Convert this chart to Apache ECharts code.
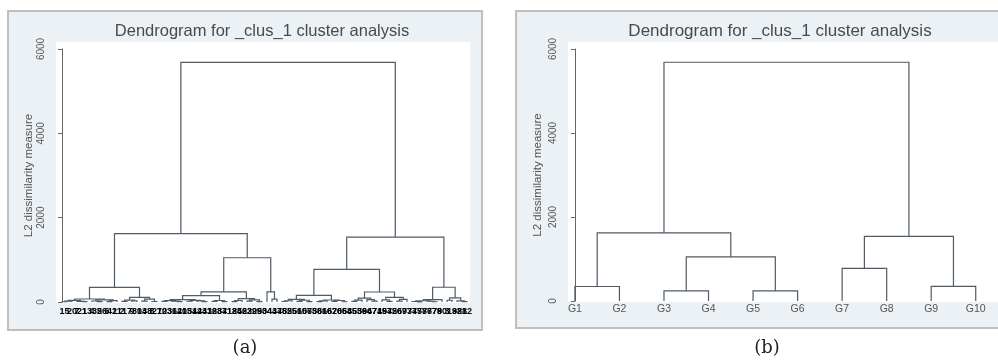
<!DOCTYPE html>
<html>
<head>
<meta charset="utf-8">
<title>Dendrogram for _clus_1 cluster analysis</title>
<script src="https://cdn.jsdelivr.net/npm/echarts@6.0.0/dist/echarts.min.js"></script>
<style>
  html, body { margin: 0; padding: 0; background: #fff; }
  #chart { width: 998px; height: 362px; }
</style>
</head>
<body>
<div id="chart"></div>
<script>
// upper part of the tree (cut at 10 groups), shared by both panels: [height, left, right]
const upperTree = [5685,
  [1620, [345, 'G1', 'G2'], [1050, [240, 'G3', 'G4'], [240, 'G5', 'G6']]],
  [1540, [775, 'G7', 'G8'], [350, 'G9', 'G10']]
];

// sub-trees of the groups in panel (a), leaves = observation numbers
const g1 = [71, [38, [20, [6, '1', '5'], '20'], [14, '7', [9, '21', '13']]],
                [52, [24, '4', [11, '35', '26']], [31, [8, '6', '42'], '11']]];
const g2 = [109, [45, [16, '2', '17'], [28, '9', '30']], [70, [22, '14', '38'], [12, '8', '27']]];
const g3 = [150,
  [58, [33, [14, '10', '23'], [21, '36', [7, '12', '40']]], [40, [18, '15', '31'], [26, '44', [9, '24', '33']]]],
  [35, [15, '16', '28'], [11, '37', '41']]];
const g4 = [80, [36, [10, '18', '25'], '46'], [50, [19, '22', '39'], [8, '29', '50']]];
const g5 = '34';
const g6 = [66, '43', '47'];
const g7 = [156,
  [62, [30, [12, '48', '52'], '55'], [41, [17, '51', '60'], [9, '57', '63']]],
  [48, [27, [10, '58', '61'], '66'], [35, [14, '62', '70'], [6, '65', '68']]]];
const g8 = [237,
  [92, [44, [15, '45', '53'], '59'], [58, '64', [20, '67', '71']]],
  [110, [51, '49', [17, '54', '72']], [64, [23, '56', '69'], '73']]];
const g9 = [55, [30, [12, '74', [4, '75', '78']], [18, '76', [6, '77', '79']]], '80'];
const g10 = [100, [42, '3', '19'], [26, '32', [9, '81', '82']]];
const groupsA = { G1: g1, G2: g2, G3: g3, G4: g4, G5: g5, G6: g6, G7: g7, G8: g8, G9: g9, G10: g10 };

const yMax = 6000;
const yStep = 2000;
const titleText = 'Dendrogram for _clus_1 cluster analysis';
const yName = 'L2 dissimilarity measure';

const lineColor = '#4f5b67';
const bgColor = '#ebf1f4';

// walk the tree: leaves get positions 0,1,2..., a node sits midway between its children
function build(node, resolve, out) {
  const n = resolve(node);
  if (!Array.isArray(n)) {
    out.leaves.push(n);
    return [out.leaves.length - 1, 0];
  }
  const a = build(n[1], resolve, out);
  const b = build(n[2], resolve, out);
  out.links.push([a[0], a[1], b[0], b[1], n[0]]);
  return [(a[0] + b[0]) / 2, n[0]];
}

const treeA = { leaves: [], links: [] };
build(upperTree, name => groupsA[name] || name, treeA);
const treeB = { leaves: [], links: [] };
build(upperTree, name => name, treeB);

function linkSeries(idx, links) {
  return {
    type: 'custom',
    xAxisIndex: idx, yAxisIndex: idx,
    data: links,
    silent: true,
    clip: false,
    encode: { x: [0, 2], y: [1, 4] },
    renderItem: function (params, api) {
      const xl = api.value(0), yl = api.value(1), xr = api.value(2), yr = api.value(3), h = api.value(4);
      return {
        type: 'polyline',
        shape: { points: [api.coord([xl, yl]), api.coord([xl, h]), api.coord([xr, h]), api.coord([xr, yr])] },
        style: { stroke: lineColor, lineWidth: 1.2, fill: null }
      };
    }
  };
}

function labelSeries(idx, leaves, font, color, dy) {
  return {
    type: 'custom',
    xAxisIndex: idx, yAxisIndex: idx,
    data: leaves.map((l, i) => [i, 0]),
    silent: true,
    clip: false,
    renderItem: function (params, api) {
      const p = api.coord([api.value(0), 0]);
      return {
        type: 'text',
        style: {
          text: leaves[params.dataIndex], x: p[0], y: p[1] + dy,
          align: 'center', verticalAlign: 'middle', fill: color, font: font
        }
      };
    }
  };
}

function yAxisCfg(idx, gap) {
  return {
    type: 'value', gridIndex: idx, min: 0, max: yMax, interval: yStep,
    name: yName, nameLocation: 'middle', nameGap: gap, nameRotate: 90,
    nameTextStyle: { color: '#555', fontSize: 11.5, fontFamily: 'Liberation Sans' },
    axisLine: { show: true, lineStyle: { color: '#666', width: 1 } },
    axisTick: { show: true, length: 4, lineStyle: { color: '#666' } },
    axisLabel: { rotate: 90, margin: 8, color: '#555', fontSize: 10, fontFamily: 'Liberation Sans',
      formatter: v => String(v) },
    splitLine: { show: false }
  };
}

function xAxisCfg(idx, min, max) {
  return {
    type: 'value', gridIndex: idx, min: min, max: max,
    axisLine: { show: false }, axisTick: { show: false }, axisLabel: { show: false }, splitLine: { show: false }
  };
}

const chart = echarts.init(document.getElementById('chart'), null, { renderer: 'canvas' });

chart.setOption({
  backgroundColor: '#ffffff',
  animation: false,
  // panel frames and white plot regions (Stata look)
  graphic: [
    { type: 'rect', z: -10, shape: { x: 8, y: 11, width: 474, height: 319 },
      style: { fill: bgColor, stroke: '#bfbfbf', lineWidth: 2 } },
    { type: 'rect', z: -9, shape: { x: 56, y: 42, width: 414, height: 261 }, style: { fill: '#ffffff' } },
    { type: 'rect', z: -10, shape: { x: 516, y: 11, width: 500, height: 317 },
      style: { fill: bgColor, stroke: '#bfbfbf', lineWidth: 2 } },
    { type: 'rect', z: -9, shape: { x: 568, y: 42, width: 440, height: 260 }, style: { fill: '#ffffff' } }
  ],
  title: [
    { text: titleText, left: 262, top: 23, textAlign: 'center', padding: 0,
      textStyle: { color: '#4a4a4a', fontSize: 16.5, fontWeight: 'normal', fontFamily: 'Liberation Sans' } },
    { text: titleText, left: 780, top: 23, textAlign: 'center', padding: 0,
      textStyle: { color: '#4a4a4a', fontSize: 17, fontWeight: 'normal', fontFamily: 'Liberation Sans' } },
    { text: '(a)', left: 245, top: 339, textAlign: 'center', padding: 0,
      textStyle: { color: '#222', fontSize: 18, fontWeight: 'normal', fontFamily: 'DejaVu Serif' } },
    { text: '(b)', left: 767, top: 339, textAlign: 'center', padding: 0,
      textStyle: { color: '#222', fontSize: 18, fontWeight: 'normal', fontFamily: 'DejaVu Serif' } }
  ],
  grid: [
    { left: 54, top: 49, width: 416, height: 253 },
    { left: 566, top: 49, width: 444, height: 252 }
  ],
  xAxis: [xAxisCfg(0, -1.6, 81.6), xAxisCfg(1, -0.2, 9.5)],
  yAxis: [yAxisCfg(0, 18), yAxisCfg(1, 22)],
  series: [
    linkSeries(0, treeA.links),
    labelSeries(0, treeA.leaves, 'bold 9px "Liberation Sans"', '#000', 10),
    linkSeries(1, treeB.links),
    labelSeries(1, treeB.leaves, '10.5px "Liberation Sans"', '#555', 8)
  ]
});

window.addEventListener('resize', function () { chart.resize(); });
</script>
</body>
</html>
